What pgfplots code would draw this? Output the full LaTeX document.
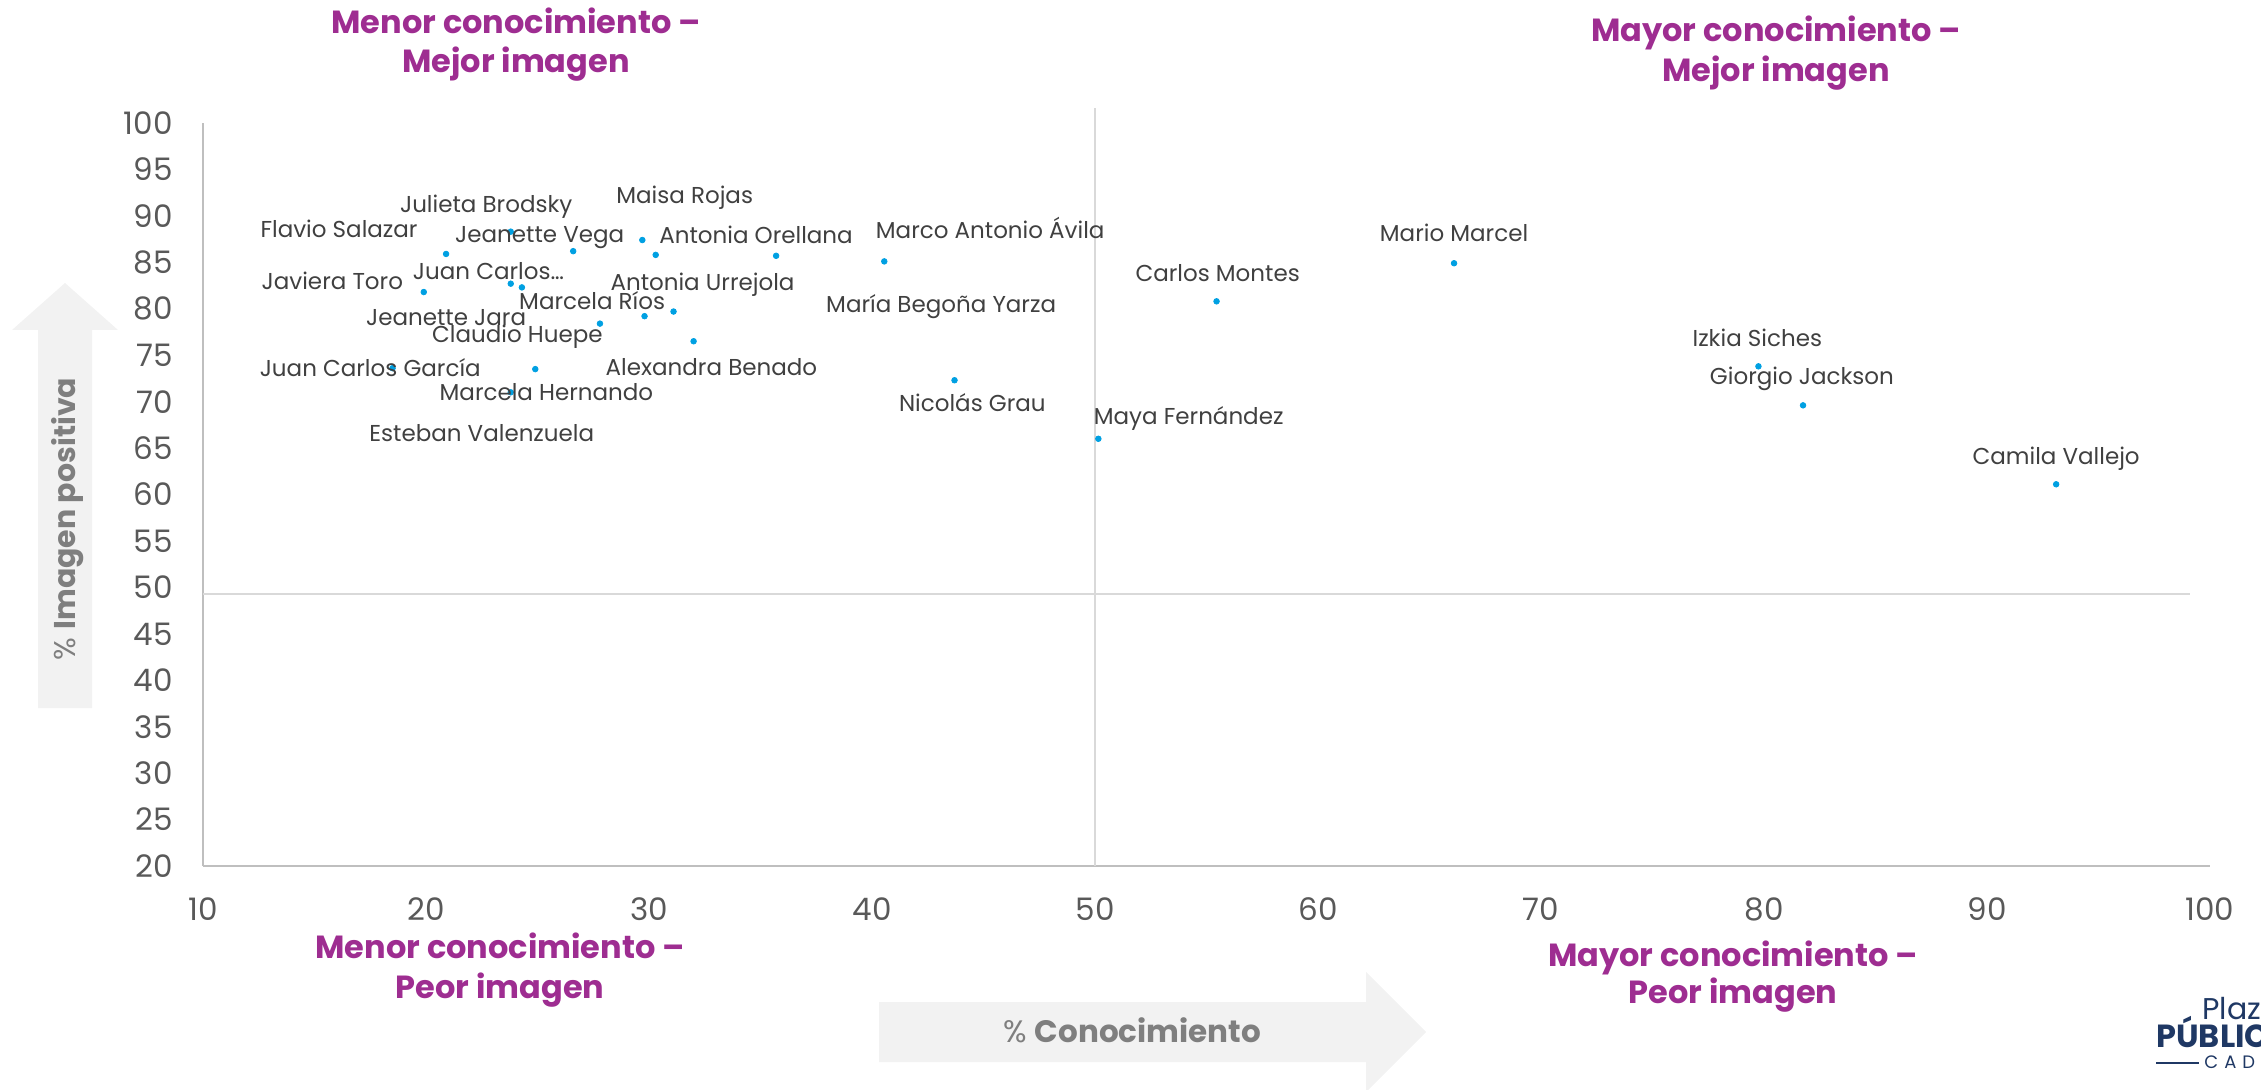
\documentclass[border=0pt]{standalone}
\usepackage{fontspec}
\setmainfont{Poppins}
\usepackage{pgfplots}
\usepackage{pgfplotstable}
\pgfplotsset{compat=1.18}

\definecolor{dotblue}{RGB}{0,160,226}
\definecolor{quadpurple}{RGB}{158,45,145}
\definecolor{ticktext}{RGB}{89,89,89}
\definecolor{labeltext}{RGB}{64,64,64}
\definecolor{arrowfill}{RGB}{242,242,242}
\definecolor{arrowtext}{RGB}{127,127,127}
\definecolor{axisgray}{RGB}{191,191,191}
\definecolor{midgray}{RGB}{217,217,217}
\definecolor{logonavy}{RGB}{31,56,100}

% x = % conocimiento, y = % imagen positiva; lx/ly = where the name sits
\pgfplotstableread[col sep=comma]{
x,y,lx,ly,name
23.8,88.3,22.7,91.2,Julieta Brodsky
29.7,87.4,31.6,92.2,Maisa Rojas
20.9,85.9,16.1,88.5,Flavio Salazar
26.6,86.2,25.1,88.0,Jeanette Vega
35.7,85.7,34.8,87.9,Antonia Orellana
40.55,85.1,45.3,88.4,Marco Antonio Ávila
66.1,84.9,66.1,88.1,Mario Marcel
19.9,81.8,15.8,82.9,Javiera Toro
23.8,82.7,22.8,84.0,Juan Carlos…
55.45,80.8,55.5,83.8,Carlos Montes
31.1,79.7,32.4,82.8,Antonia Urrejola
29.8,79.2,27.45,80.8,Marcela Ríos
30.3,85.8,43.1,80.5,María Begoña Yarza
24.3,82.3,20.9,79.1,Jeanette Jara
27.8,78.4,24.1,77.2,Claudio Huepe
79.75,73.8,79.7,76.8,Izkia Siches
18.5,73.6,17.5,73.6,Juan Carlos García
32.0,76.5,32.8,73.7,Alexandra Benado
81.75,69.6,81.7,72.7,Giorgio Jackson
23.8,71.0,25.4,70.95,Marcela Hernando
43.7,72.3,44.5,69.8,Nicolás Grau
50.15,66.0,54.2,68.4,Maya Fernández
24.9,73.5,22.5,66.6,Esteban Valenzuela
93.1,61.1,93.1,64.1,Camila Vallejo
}\ministros

\begin{document}
\begin{tikzpicture}
\useasboundingbox (0,0) rectangle (1130.5pt,544.5pt);

% axis-title arrows
\fill[arrowfill] (19pt,190.5pt) -- (46pt,190.5pt) -- (46pt,379.5pt) -- (59pt,379.5pt)
  -- (32.5pt,403pt) -- (6pt,379.5pt) -- (19pt,379.5pt) -- cycle;
\node[rotate=90, text=arrowtext, font=\fontsize{15}{18}\selectfont, inner sep=0pt,
  text height=10.5pt, text depth=0pt] at (32.5pt,285pt) {\% \textbf{Imagen positiva}};
\fill[arrowfill] (439.5pt,13.5pt) -- (683pt,13.5pt) -- (683pt,-1.5pt) -- (713pt,28.5pt)
  -- (683pt,58.5pt) -- (683pt,43.5pt) -- (439.5pt,43.5pt) -- cycle;
\node[text=arrowtext, font=\fontsize{15.5}{18}\selectfont, inner sep=0pt,
  text height=10.8pt, text depth=0pt] at (566pt,28.5pt) {\% \textbf{Conocimiento}};

% quadrant titles
\tikzset{quad/.style={text=quadpurple, font=\fontsize{16}{19}\selectfont\bfseries,
  inner sep=0pt, text height=11.2pt, text depth=0pt}}
\node[quad] at (258pt,533.5pt) {Menor conocimiento –};
\node[quad] at (258pt,514pt) {Mejor imagen};
\node[quad] at (888pt,529.5pt) {Mayor conocimiento –};
\node[quad] at (888pt,509.5pt) {Mejor imagen};
\node[quad] at (250pt,71pt) {Menor conocimiento –};
\node[quad] at (250pt,51pt) {Peor imagen};
\node[quad] at (866.5pt,67pt) {Mayor conocimiento –};
\node[quad] at (866.5pt,48.5pt) {Peor imagen};

% logo, cut by the right edge as in the source
\node[anchor=west, font=\fontsize{15}{15}\selectfont, text=logonavy, inner sep=0pt] at (1101pt,40pt) {Plaza};
\node[anchor=west, font=\fontsize{16}{16}\selectfont\bfseries, text=logonavy, inner sep=0pt] at (1078pt,28.3pt) {PÚBLICA};
\draw[logonavy, line width=1.4pt] (1078pt,13pt) -- (1099.5pt,13pt);
\node[anchor=west, font=\fontsize{9}{9}\selectfont, text=logonavy, inner sep=0pt] at (1102pt,13.5pt) {C\hspace{3pt}A\hspace{3pt}D\hspace{3pt}E\hspace{3pt}M};

\begin{axis}[
  at={(101.5pt,111.5pt)}, anchor=south west,
  scale only axis, width=1003.5pt, height=371.5pt,
  xmin=10, xmax=100, ymin=20, ymax=100,
  xtick={10,20,...,100}, ytick={20,25,...,100},
  axis x line*=bottom, axis y line*=left,
  axis line style={draw=axisgray, line width=1pt},
  major tick length=0pt, tick style={draw=none},
  ticklabel style={font=\fontsize{15.5}{18}\selectfont, text=ticktext},
  /pgf/number format/assume math mode=true,
  xticklabel style={anchor=north, inner sep=0pt, yshift=-15.5pt},
  yticklabel style={anchor=east, inner sep=0pt, xshift=-15pt},
  clip=false,
]
% quadrant dividers
\addplot[midgray, line width=1pt] coordinates {(50,20) (50,101.6)};
\addplot[midgray, line width=1pt] coordinates {(10,49.3) (99.1,49.3)};
% ministers
\addplot[only marks, mark=*, mark size=1.4pt, color=dotblue] table[x=x, y=y] {\ministros};
% their names
\addplot[draw=none, nodes near coords, point meta=explicit symbolic,
  every node near coord/.append style={anchor=center, inner sep=0pt,
    font=\fontsize{11.5}{13}\selectfont, text=labeltext,
    text height=8pt, text depth=0pt}]
  table[x=lx, y=ly, meta=name] {\ministros};
\end{axis}
\end{tikzpicture}
\end{document}
